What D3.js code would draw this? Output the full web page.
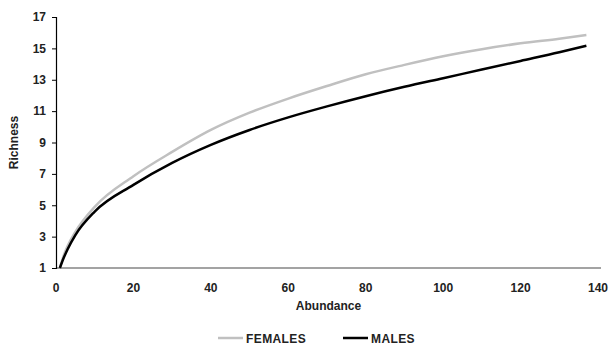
<!DOCTYPE html>
<html>
<head>
<meta charset="utf-8">
<script src="https://cdn.jsdelivr.net/npm/d3@7"></script>
<style>
  body { margin: 0; background: #fff; }
  text { font-family: Arial, "Liberation Sans", sans-serif; }
</style>
</head>
<body>
<svg></svg>
<script>
// rarefaction curves, values
var abundance = [1, 2, 3, 5, 10, 20, 30, 40, 50, 60, 70, 80, 90, 100, 110, 120, 130, 137];
var females   = [1, 1.8, 2.4, 3.3, 4.9, 6.85, 8.4, 9.8, 10.9, 11.8, 12.6, 13.35, 13.95, 14.5, 14.95, 15.32, 15.62, 15.85];
var males     = [1, 1.65, 2.2, 3.1, 4.6, 6.3, 7.7, 8.85, 9.8, 10.6, 11.3, 11.95, 12.55, 13.1, 13.65, 14.2, 14.75, 15.17];
var xTicks = [0, 20, 40, 60, 80, 100, 120, 140];
var yTicks = [1, 3, 5, 7, 9, 11, 13, 15, 17];
var seriesNames = ['FEMALES', 'MALES'];
var seriesColors = ['#c0c0c0', '#000000'];

var svgWidth = 611, svgHeight = 345;

var svg = d3.select('svg')
    .attr('width', svgWidth)
    .attr('height', svgHeight);

var xScale = d3.scaleLinear()
    .domain([0, 140])
    .range([56, 598]);

var yScale = d3.scaleLinear()
    .domain([1, 17])
    .range([268, 17]);

// x axis: grey line, no ticks
svg.append('line')
    .attr('x1', xScale(0)).attr('x2', 601)
    .attr('y1', yScale(1)).attr('y2', yScale(1))
    .attr('stroke', '#858585')
    .attr('stroke-width', 1.5);

svg.selectAll('.xlab')
    .data(xTicks)
    .enter()
    .append('text')
    .attr('class', 'xlab')
    .attr('x', function(d) { return xScale(d); })
    .attr('y', 292)
    .attr('text-anchor', 'middle')
    .style('font-size', '12px')
    .style('font-weight', 'bold')
    .attr('fill', '#222')
    .text(function(d) { return d; });

// y axis
var yAxis = d3.axisLeft(yScale)
    .tickValues(yTicks)
    .tickSize(4)
    .tickPadding(6);

var yG = svg.append('g')
    .attr('transform', 'translate(' + xScale(0) + ',0)')
    .call(yAxis);

yG.select('.domain').attr('stroke', '#000').attr('stroke-width', 1.2);
yG.selectAll('.tick line').attr('stroke', '#000');
yG.selectAll('.tick text')
    .attr('fill', '#222')
    .style('font-size', '12px')
    .style('font-weight', 'bold')
    .style('font-family', 'Arial, "Liberation Sans", sans-serif');

// curves
var line = d3.line()
    .x(function(d) { return xScale(d[0]); })
    .y(function(d) { return yScale(d[1]); })
    .curve(d3.curveMonotoneX);

[females, males].forEach(function(vals, i) {
    svg.append('path')
        .datum(abundance.map(function(a, j) { return [a, vals[j]]; }))
        .attr('fill', 'none')
        .attr('stroke', seriesColors[i])
        .attr('stroke-width', 2.5)
        .attr('d', line);
});

// axis titles
svg.append('text')
    .attr('x', (xScale(0) + 601) / 2)
    .attr('y', 310)
    .attr('text-anchor', 'middle')
    .style('font-size', '12px')
    .style('font-weight', 'bold')
    .attr('fill', '#222')
    .text('Abundance');

svg.append('text')
    .attr('transform', 'translate(18,' + (yScale(1) + yScale(17)) / 2 + ') rotate(-90)')
    .attr('text-anchor', 'middle')
    .style('font-size', '12px')
    .style('font-weight', 'bold')
    .attr('fill', '#222')
    .text('Richness');

// legend
var legendX = [218, 343];
var legend = svg.selectAll('.legend')
    .data(seriesNames)
    .enter()
    .append('g')
    .attr('class', 'legend')
    .attr('transform', function(d, i) { return 'translate(' + legendX[i] + ',338)'; });

legend.append('line')
    .attr('x1', 0).attr('x2', 25)
    .attr('y1', 0).attr('y2', 0)
    .attr('stroke', function(d, i) { return seriesColors[i]; })
    .attr('stroke-width', 2.5);

legend.append('text')
    .attr('x', 28)
    .attr('y', 4.5)
    .style('font-size', '12px')
    .style('font-weight', 'bold')
    .style('letter-spacing', '0.4px')
    .attr('fill', '#222')
    .text(function(d) { return d; });
</script>
</body>
</html>
